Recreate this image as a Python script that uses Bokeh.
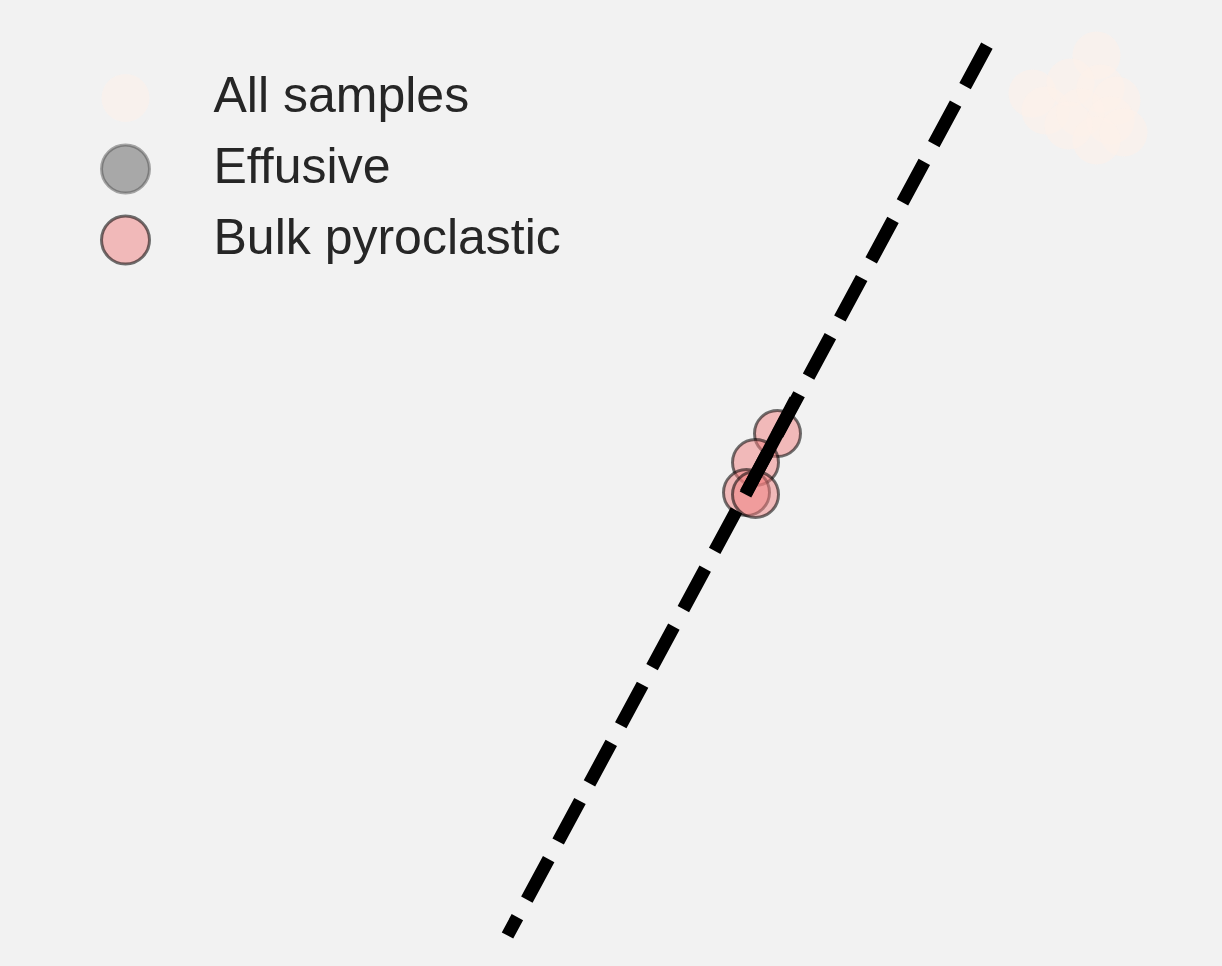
from bokeh.plotting import figure
from bokeh.models import Range1d
from bokeh.core.properties import value
from bokeh.embed import file_html
from bokeh.resources import INLINE

# ---- data (arbitrary units) ----
all_x = [1096, 1032, 1045, 1070, 1100, 1116, 1080, 1110, 1123, 1096, 1068]
all_y = [911, 873, 856, 884, 878, 866, 854, 846, 834, 826, 841]

effusive_x = []
effusive_y = []

bulk_x = [777, 755, 746, 755]
bulk_y = [533, 504, 474, 472]

trend_x = [986.4, 507.0]
trend_y = [920.9, 31.0]

fit_x = [745, 795]
fit_y = [472, 567]

legend_labels = ["All samples", "Effusive", "Bulk pyroclastic"]

# ---- styles ----
BG = "#f2f2f2"
ALL_FILL = "#fdf0ea"
EFF_FILL = "#808080"
BULK_FILL = "#f08080"
TEXT_COLOR = "#262626"

p = figure(width=1222, height=966,
           x_range=Range1d(0, 1222), y_range=Range1d(0, 966),
           x_axis_location=None, y_axis_location=None,
           output_backend="svg", toolbar_location=None,
           min_border=0, background_fill_color=BG, border_fill_color=BG,
           outline_line_color=None)
p.grid.visible = False
p.styles = {"background-color": BG}

# data points
p.scatter(all_x, all_y, size=48, fill_color=ALL_FILL, fill_alpha=0.55, line_alpha=0)
p.scatter(effusive_x, effusive_y, size=46, fill_color=EFF_FILL, fill_alpha=0.65,
          line_color="#444444", line_alpha=0.45, line_width=3)
p.scatter(bulk_x, bulk_y, size=46, fill_color=BULK_FILL, fill_alpha=0.5,
          line_color="black", line_alpha=0.55, line_width=3)

# trend lines
p.line(trend_x, trend_y, line_color="black", line_width=13, line_dash="46 20", line_cap="butt")
p.line(fit_x, fit_y, line_color="black", line_width=13, line_cap="butt")

# manual legend
lx_marker = 125
lx_text = 213
ly_top = 966 - 97.5
row = 71
ys = [ly_top - i * row for i in range(3)]
p.scatter([lx_marker], [ys[0]], size=48, fill_color=ALL_FILL, fill_alpha=0.55, line_alpha=0)
p.scatter([lx_marker], [ys[1]], size=48, fill_color=EFF_FILL, fill_alpha=0.65,
          line_color="#444444", line_alpha=0.45, line_width=3)
p.scatter([lx_marker], [ys[2]], size=48, fill_color=BULK_FILL, fill_alpha=0.5,
          line_color="black", line_alpha=0.55, line_width=3)
p.text(x=[lx_text] * 3, y=[y + 3 for y in ys], text=legend_labels,
       text_font=value("Liberation Sans"), text_font_size="50px",
       text_color=TEXT_COLOR, text_baseline="alphabetic", text_align="left")

open("out.html", "w").write(file_html(p, INLINE))
